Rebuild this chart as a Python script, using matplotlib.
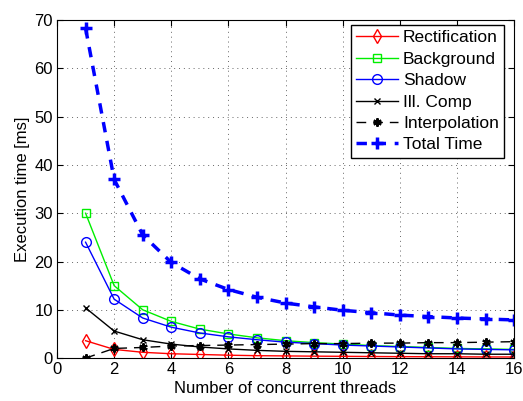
import numpy as np
import matplotlib
matplotlib.use("Agg")
import matplotlib.pyplot as plt

plt.rcParams["font.family"] = ["Liberation Sans", "DejaVu Sans"]

threads = list(range(1, 17))
rectification = [3.6, 1.8, 1.2, 0.9, 0.75, 0.6, 0.5, 0.45, 0.4, 0.37, 0.33, 0.3, 0.28, 0.26, 0.24, 0.23]
background    = [30.0, 15.0, 10.0, 7.6, 6.0, 5.0, 4.2, 3.6, 3.2, 2.9, 2.6, 2.4, 2.2, 2.0, 1.9, 1.8]
shadow        = [24.0, 12.2, 8.3, 6.4, 5.2, 4.4, 3.8, 3.3, 3.0, 2.7, 2.5, 2.3, 2.1, 1.9, 1.8, 1.7]
ill_comp      = [10.4, 5.6, 3.8, 2.9, 2.3, 1.9, 1.6, 1.4, 1.3, 1.2, 1.1, 1.0, 0.9, 0.9, 0.8, 0.8]
interpolation = [0.0, 2.0, 2.2, 2.5, 2.6, 2.7, 2.8, 2.9, 3.0, 3.0, 3.1, 3.1, 3.2, 3.2, 3.3, 3.4]
total_time    = [68.3, 37.0, 25.5, 19.8, 16.4, 14.2, 12.6, 11.4, 10.6, 9.9, 9.4, 8.9, 8.6, 8.3, 8.1, 7.9]

fig = plt.figure(figsize=(5.23, 4.01), dpi=100)
ax = fig.add_axes([0.109, 0.107, 0.874, 0.843])

ax.plot(threads, rectification, color="red", lw=1, marker="d", ms=7, mfc="none", mew=1, label="Rectification")
ax.plot(threads, background, color="#00ee00", lw=1, marker="s", ms=6, mfc="none", mew=1, label="Background")
ax.plot(threads, shadow, color="blue", lw=1, marker="o", ms=7, mfc="none", mew=1, label="Shadow")
ax.plot(threads, ill_comp, color="black", lw=1, marker="x", ms=5, mew=1, label="Ill. Comp")
ax.plot(threads, interpolation, color="black", lw=1, ls=(0, (7, 5)), marker=(6, 2, 0), ms=6, mew=1.5, label="Interpolation")
ax.plot(threads, total_time, color="blue", lw=2.5, ls=(0, (3, 2.5)), marker="+", ms=8, mew=2.5, label="Total Time")

ax.set_xlim(0, 16)
ax.set_ylim(0, 70)
ax.set_xticks(range(0, 17, 2))
ax.set_yticks(range(0, 71, 10))
ax.tick_params(direction="in", top=True, right=True, labelsize=12, length=4, pad=3)
ax.grid(True, ls=(0, (1, 4)), color="#666666", lw=0.7)
ax.set_xlabel("Number of concurrent threads", fontsize=12, labelpad=3)
ax.set_ylabel("Execution time [ms]", fontsize=12, labelpad=3)

leg = ax.legend(loc="upper right", fontsize=12.5, fancybox=False, framealpha=1,
                edgecolor="black", bbox_to_anchor=(0.978, 0.985), borderaxespad=0,
                handlelength=2.4, labelspacing=0.36, borderpad=0.3, handletextpad=0.3)
leg.get_frame().set_linewidth(1)

fig.savefig("out.png", dpi=100)
